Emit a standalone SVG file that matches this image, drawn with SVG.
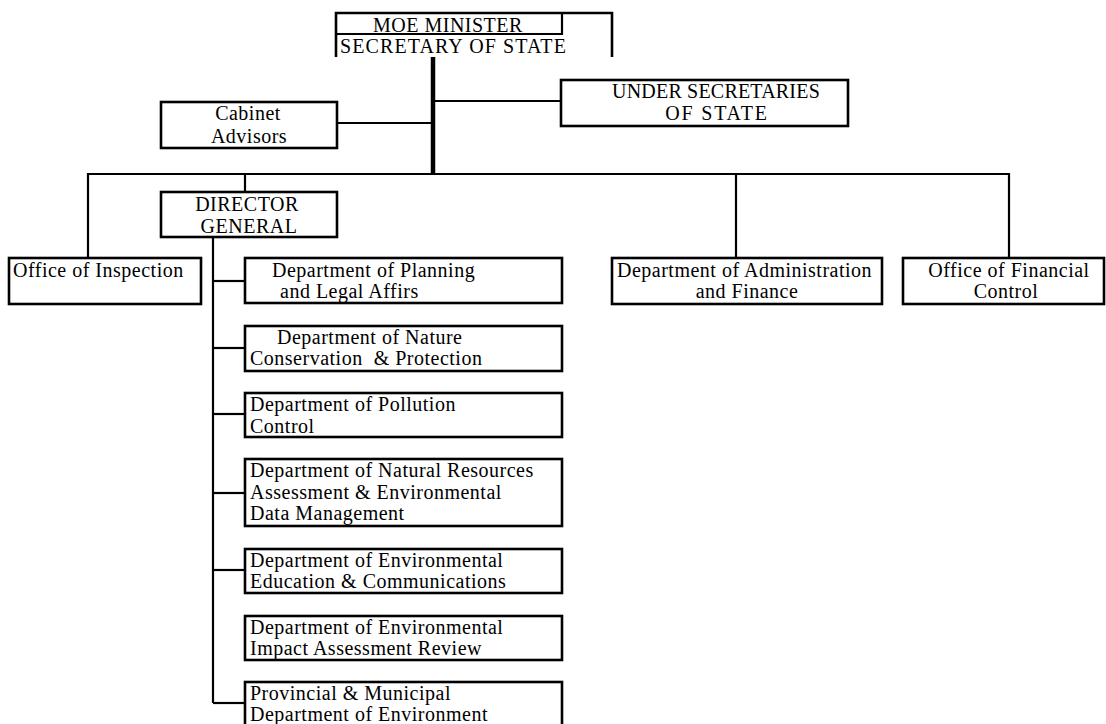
<svg xmlns="http://www.w3.org/2000/svg" width="1106" height="724" viewBox="0 0 1106 724">
<style>
.box{fill:#fff;stroke:#000;stroke-width:2.6}
.ln{fill:none;stroke:#000;stroke-width:2.2}
.trunk{fill:none;stroke:#000;stroke-width:4.5}
text{font-family:"Liberation Serif","Times New Roman",serif;font-size:20px;letter-spacing:0.5px;fill:#000}
.c{text-anchor:middle}
</style>
<rect width="1106" height="724" fill="#fff"/>
<g id="connectors">
<line class="trunk" x1="433" y1="57" x2="433" y2="175"/>
<line class="ln" x1="337" y1="123" x2="433" y2="123"/>
<line class="ln" x1="433" y1="101" x2="561" y2="101"/>
<polyline class="ln" points="88,258 88,174 1009,174 1009,258"/>
<line class="ln" x1="245" y1="174" x2="245" y2="192"/>
<line class="ln" x1="736" y1="174" x2="736" y2="258"/>
<line class="ln" x1="213" y1="237" x2="213" y2="703"/>
<line class="ln" x1="213" y1="281" x2="245" y2="281"/>
<line class="ln" x1="213" y1="348" x2="245" y2="348"/>
<line class="ln" x1="213" y1="414" x2="245" y2="414"/>
<line class="ln" x1="213" y1="493" x2="245" y2="493"/>
<line class="ln" x1="213" y1="570" x2="245" y2="570"/>
<line class="ln" x1="213" y1="703" x2="245" y2="703"/>
</g>
<g id="moe">
<path class="box" d="M336,57 V13 H612 V57" fill="none"/>
<path class="ln" d="M336,34 H562 V13" stroke-width="2.6"/>
<text x="373" y="32">MOE MINISTER</text>
<text x="340" y="53" style="letter-spacing:1.1px">SECRETARY OF STATE</text>
</g>
<g id="under-secretaries">
<rect class="box" x="561" y="80" width="287" height="46"/>
<text class="c" x="716" y="98" style="letter-spacing:0.2px">UNDER SECRETARIES</text>
<text class="c" x="717" y="120" style="letter-spacing:1.8px">OF STATE</text>
</g>
<g id="cabinet">
<rect class="box" x="161" y="102" width="176" height="46"/>
<text class="c" x="248" y="120">Cabinet</text>
<text class="c" x="249" y="143">Advisors</text>
</g>
<g id="director-general">
<rect class="box" x="161" y="192" width="176" height="45"/>
<text class="c" x="247" y="211">DIRECTOR</text>
<text class="c" x="249" y="233">GENERAL</text>
</g>
<g id="inspection">
<rect class="box" x="9" y="258" width="192" height="46"/>
<text x="13" y="277">Office of Inspection</text>
</g>
<g id="admin-finance">
<rect class="box" x="612" y="258" width="270" height="46"/>
<text x="617" y="277">Department of Administration</text>
<text class="c" x="747" y="298">and Finance</text>
</g>
<g id="financial-control">
<rect class="box" x="903" y="258" width="201" height="46"/>
<text class="c" x="1009" y="277">Office of Financial</text>
<text class="c" x="1006" y="298">Control</text>
</g>
<g id="planning">
<rect class="box" x="245" y="258" width="317" height="45"/>
<text x="272" y="277">Department of Planning</text>
<text x="280" y="298">and Legal Affirs</text>
</g>
<g id="nature">
<rect class="box" x="245" y="326" width="317" height="45"/>
<text x="277" y="344">Department of Nature</text>
<text x="250" y="365" xml:space="preserve">Conservation  &amp; Protection</text>
</g>
<g id="pollution">
<rect class="box" x="245" y="393" width="317" height="44"/>
<text x="250" y="411">Department of Pollution</text>
<text x="250" y="433">Control</text>
</g>
<g id="natural-resources">
<rect class="box" x="245" y="459" width="317" height="67"/>
<text x="250" y="477">Department of Natural Resources</text>
<text x="250" y="499">Assessment &amp; Environmental</text>
<text x="250" y="520">Data Management</text>
</g>
<g id="env-education">
<rect class="box" x="245" y="549" width="317" height="44"/>
<text x="250" y="567">Department of Environmental</text>
<text x="250" y="588">Education &amp; Communications</text>
</g>
<g id="eia-review">
<rect class="box" x="245" y="616" width="317" height="44"/>
<text x="250" y="634">Department of Environmental</text>
<text x="250" y="655">Impact Assessment Review</text>
</g>
<g id="provincial">
<rect class="box" x="245" y="682" width="317" height="50"/>
<text x="250" y="700">Provincial &amp; Municipal</text>
<text x="250" y="721">Department of Environment</text>
</g>
</svg>
